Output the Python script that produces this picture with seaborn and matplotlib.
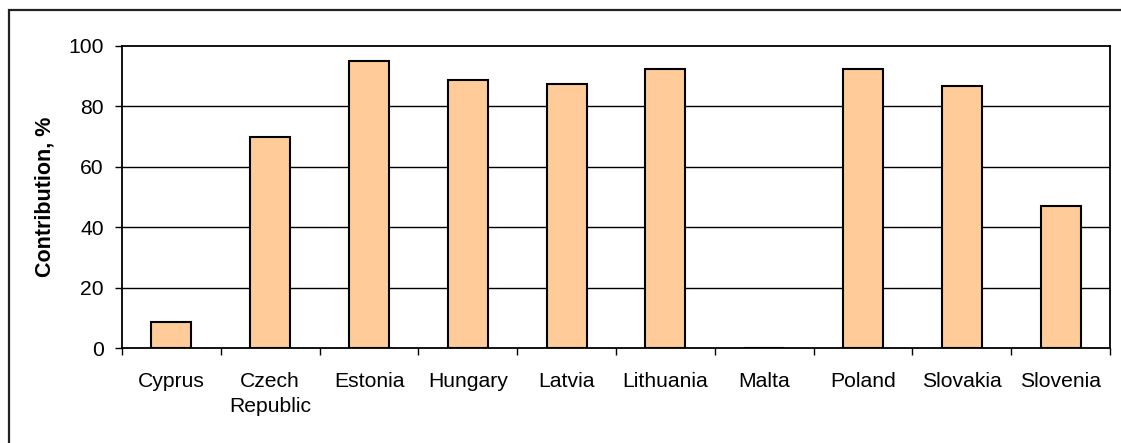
import matplotlib
matplotlib.use("Agg")
import matplotlib.pyplot as plt
import matplotlib.patches as mpatches
import seaborn as sns
import pandas as pd
import numpy as np

countries = ["Cyprus", "Czech\nRepublic", "Estonia", "Hungary", "Latvia",
             "Lithuania", "Malta", "Poland", "Slovakia", "Slovenia"]
contribution = [8.7, 69.9, 94.9, 88.8, 87.2, 92.2, 0.0, 92.2, 86.7, 47.1]
y_ticks = [0, 20, 40, 60, 80, 100]

sns.set_theme(style="white")
plt.rcParams["font.family"] = ["Liberation Sans", "DejaVu Sans"]
plt.rcParams["text.color"] = "black"
plt.rcParams["axes.labelcolor"] = "black"
plt.rcParams["xtick.color"] = "black"
plt.rcParams["ytick.color"] = "black"

W, H = 1121, 443
fig = plt.figure(figsize=(W / 100, H / 100), dpi=100)
ax = fig.add_axes([122 / W, 1 - 348 / H, (1110 - 122) / W, (348 - 45.7) / H])

df = pd.DataFrame({"country": countries, "value": contribution})
sns.barplot(data=df, x="country", y="value", color="#FFCC99",
            edgecolor="black", linewidth=1.5, width=0.405,
            saturation=1, ax=ax, zorder=3)

ax.set_ylim(0, 100)
ax.set_xlim(-0.5, len(countries) - 0.5)
ax.set_yticks(y_ticks)
ax.set_yticklabels([str(v) for v in y_ticks])

# horizontal gridlines
for v in y_ticks[1:-1]:
    ax.axhline(v, color="black", lw=1.0, zorder=1)

for side in ["left", "right", "top", "bottom"]:
    ax.spines[side].set_visible(True)
    ax.spines[side].set_color("black")
    ax.spines[side].set_linewidth(1.3)

fs = 15.2
ax.tick_params(axis="y", which="major", direction="out", length=5,
               width=1, color="black", labelcolor="black", labelsize=fs,
               pad=8.0, left=True)
ax.tick_params(axis="x", which="major", length=0, labelsize=fs,
               labelcolor="black", pad=17)
ax.set_xticks(np.arange(-0.5, len(countries), 1.0), minor=True)
ax.tick_params(axis="x", which="minor", direction="out", length=5,
               width=1, color="black", bottom=True)
for lbl in ax.get_xticklabels():
    lbl.set_linespacing(1.45)

ax.set_xlabel("")
ax.set_ylabel("Contribution, %", fontsize=15.5, fontweight="bold",
              color="black", labelpad=9.5)

# chart frame
fig.patches.append(mpatches.Rectangle((9 / W, -0.5), 2.0, 0.5 + (H - 10) / H,
                                      transform=fig.transFigure, fill=False,
                                      edgecolor="#222222", lw=1.6))

fig.savefig("out.png", dpi=100)
